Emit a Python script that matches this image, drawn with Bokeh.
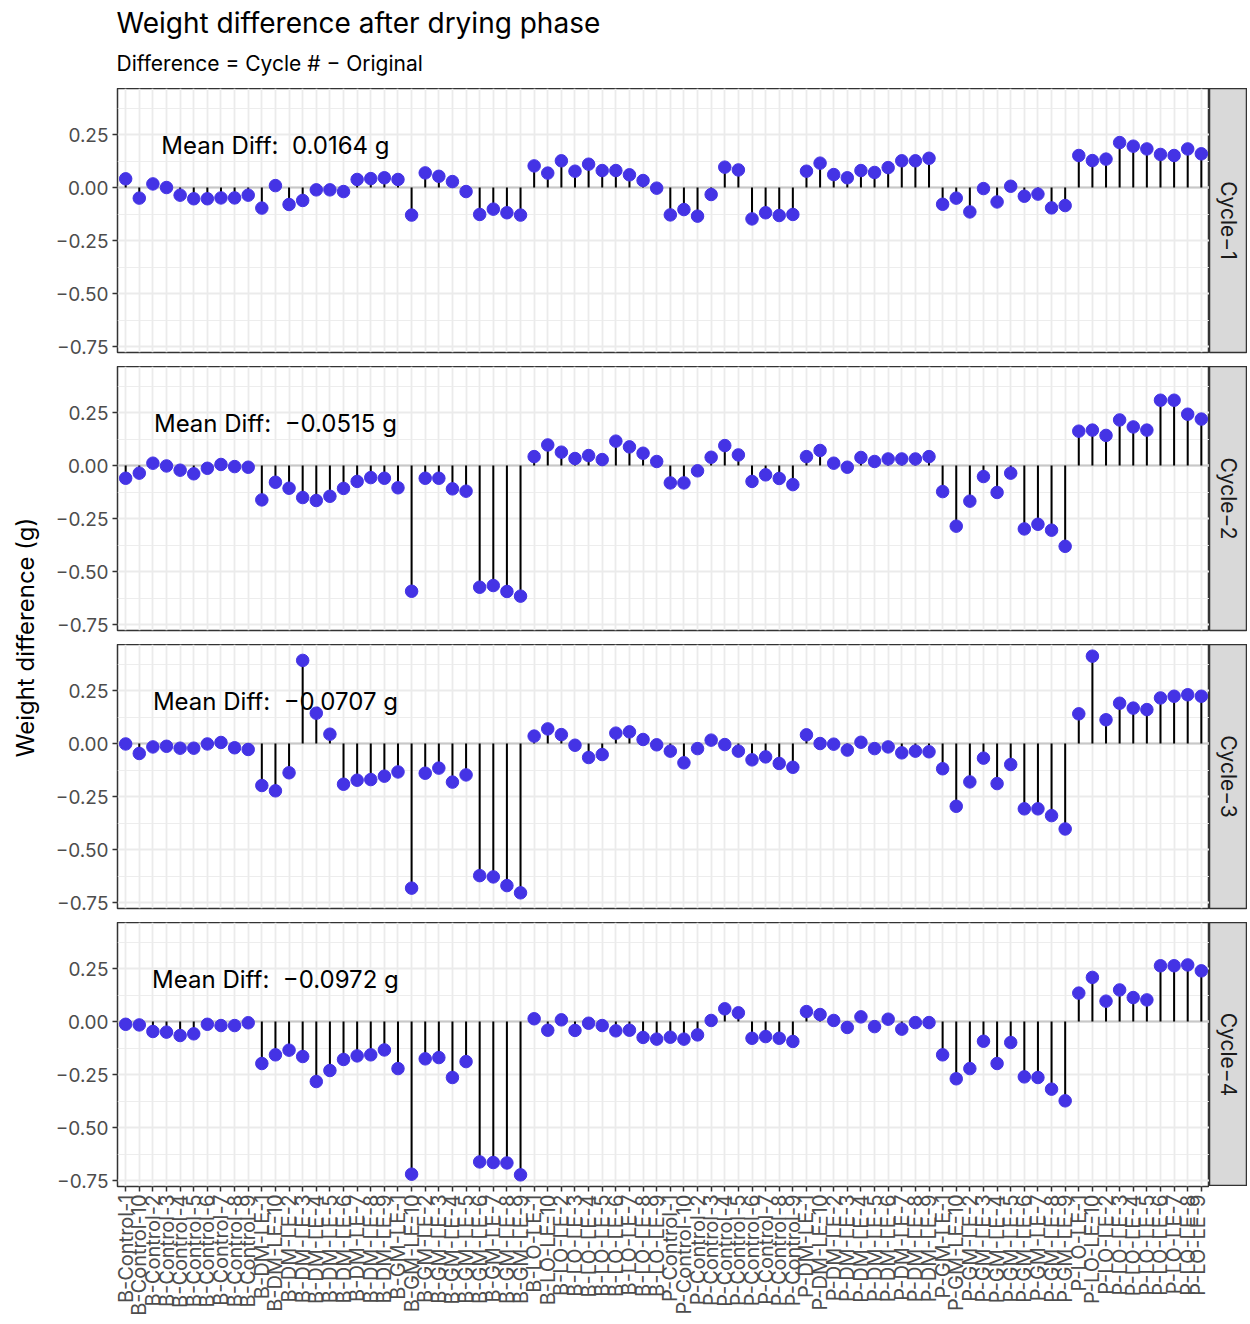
import math
from bokeh.plotting import figure
from bokeh.models import FactorRange, Range1d, FixedTicker, Span
from bokeh.layouts import column, row
from bokeh.embed import file_html
from bokeh.resources import INLINE
from bokeh.core.properties import value

# ---------------- data ----------------
groups = ["B-Control", "B-DM-LE", "B-GM-LE", "B-LO-LE",
          "P-Control", "P-DM-LE", "P-GM-LE", "P-LO-LE"]
suffixes = ["1", "10", "2", "3", "4", "5", "6", "7", "8", "9"]
categories = [f"{g}-{s}" for g in groups for s in suffixes]
category_labels = [c.replace("-", "\u2212") for c in categories]

cycle1 = [0.041, -0.050, 0.017, 0.000, -0.036, -0.053, -0.053, -0.049, -0.049, -0.036,
          -0.097, 0.009, -0.080, -0.061, -0.011, -0.011, -0.019, 0.038, 0.042, 0.046,
          0.038, -0.130, 0.069, 0.053, 0.028, -0.019, -0.127, -0.102, -0.119, -0.130,
          0.102, 0.068, 0.126, 0.077, 0.110, 0.080, 0.080, 0.060, 0.033, -0.003,
          -0.129, -0.104, -0.135, -0.033, 0.096, 0.083, -0.148, -0.119, -0.132, -0.127,
          0.077, 0.115, 0.061, 0.046, 0.080, 0.071, 0.094, 0.126, 0.126, 0.138,
          -0.079, -0.050, -0.115, -0.005, -0.068, 0.006, -0.041, -0.031, -0.096, -0.085,
          0.151, 0.127, 0.134, 0.212, 0.195, 0.182, 0.156, 0.151, 0.182, 0.159]

cycle2 = [-0.060, -0.036, 0.011, -0.002, -0.022, -0.039, -0.013, 0.005, -0.005, -0.008,
          -0.162, -0.079, -0.107, -0.151, -0.165, -0.145, -0.108, -0.075, -0.057, -0.060,
          -0.105, -0.593, -0.060, -0.060, -0.110, -0.121, -0.574, -0.566, -0.594, -0.616,
          0.042, 0.097, 0.063, 0.033, 0.047, 0.028, 0.115, 0.088, 0.058, 0.019,
          -0.082, -0.082, -0.025, 0.039, 0.094, 0.050, -0.075, -0.044, -0.061, -0.090,
          0.042, 0.071, 0.011, -0.008, 0.038, 0.019, 0.031, 0.031, 0.031, 0.042,
          -0.123, -0.286, -0.168, -0.052, -0.127, -0.036, -0.299, -0.277, -0.305, -0.381,
          0.162, 0.167, 0.142, 0.215, 0.182, 0.167, 0.308, 0.308, 0.242, 0.219]

cycle3 = [-0.002, -0.047, -0.016, -0.013, -0.022, -0.022, -0.002, 0.005, -0.020, -0.028,
          -0.198, -0.223, -0.138, 0.392, 0.143, 0.044, -0.192, -0.173, -0.170, -0.154,
          -0.134, -0.682, -0.140, -0.116, -0.182, -0.148, -0.623, -0.629, -0.670, -0.704,
          0.035, 0.069, 0.042, -0.008, -0.066, -0.052, 0.049, 0.055, 0.019, -0.006,
          -0.036, -0.091, -0.024, 0.016, -0.005, -0.036, -0.077, -0.063, -0.094, -0.112,
          0.041, 0.000, -0.003, -0.031, 0.006, -0.024, -0.016, -0.044, -0.036, -0.039,
          -0.119, -0.296, -0.181, -0.069, -0.189, -0.099, -0.308, -0.308, -0.340, -0.403,
          0.140, 0.412, 0.112, 0.190, 0.167, 0.160, 0.215, 0.223, 0.230, 0.223]

cycle4 = [-0.013, -0.016, -0.047, -0.050, -0.066, -0.058, -0.013, -0.019, -0.019, -0.006,
          -0.198, -0.157, -0.135, -0.165, -0.283, -0.231, -0.179, -0.162, -0.157, -0.134,
          -0.222, -0.720, -0.176, -0.170, -0.264, -0.189, -0.662, -0.665, -0.667, -0.723,
          0.013, -0.041, 0.008, -0.042, -0.008, -0.019, -0.044, -0.041, -0.075, -0.083,
          -0.074, -0.083, -0.063, 0.005, 0.060, 0.041, -0.079, -0.071, -0.079, -0.094,
          0.047, 0.033, 0.005, -0.028, 0.022, -0.024, 0.011, -0.036, -0.005, -0.005,
          -0.157, -0.270, -0.222, -0.093, -0.198, -0.099, -0.261, -0.264, -0.319, -0.374,
          0.134, 0.208, 0.096, 0.149, 0.113, 0.102, 0.263, 0.263, 0.267, 0.239]

series = [cycle1, cycle2, cycle3, cycle4]
strip_labels = ["Cycle\u22121", "Cycle\u22122", "Cycle\u22123", "Cycle\u22124"]
mean_labels = ["Mean Diff:\u00a0 0.0164 g", "Mean Diff:\u00a0 \u22120.0515 g",
               "Mean Diff:\u00a0 \u22120.0707 g", "Mean Diff:\u00a0 \u22120.0972 g"]
mean_label_x = "B-DM-LE-10"
mean_label_y = 0.2
y_ticks = [-0.75, -0.5, -0.25, 0.0, 0.25]
y_minor = [-0.625, -0.375, -0.125, 0.125, 0.375]
y_tick_labels = ["\u22120.75", "\u22120.50", "\u22120.25", "0.00", "0.25"]

title_text = "Weight difference after drying phase"
subtitle_text = "Difference = Cycle # \u2212 Original"
ylabel_text = "Weight difference (g)"

# ---------------- style ----------------
FONT = "Inter"
FW, FH, GAP = 1092, 264, 14
TOP = 88
LEFT = 69
YLW = 48
SW = 38
TOTAL_W = YLW + LEFT + FW + SW
POINT = "#4433E5"
GRID = "#EBEBEB"
DARK = "#333333"


def base_fig(**kw):
    f = figure(toolbar_location=None, output_backend="svg", **kw)
    f.background_fill_color = "white"
    f.border_fill_color = "white"
    return f


# title block
tfig = base_fig(x_range=Range1d(0, TOTAL_W), y_range=Range1d(0, TOP),
                frame_width=TOTAL_W, frame_height=TOP, min_border=0)
tfig.axis.visible = False
tfig.grid.visible = False
tfig.outline_line_color = None
tfig.text(x=[YLW + LEFT - 1], y=[TOP - 22], text=[title_text], text_font=value(FONT),
          text_font_size="28px", text_color="black", text_baseline="middle", text_align="left")
tfig.text(x=[YLW + LEFT - 1], y=[TOP - 63], text=[subtitle_text], text_font=value(FONT),
          text_font_size="21px", text_color="black", text_baseline="middle", text_align="left")

# y label block
col_h = 3 * (FH + GAP) + FH
yfig = base_fig(x_range=Range1d(0, YLW), y_range=Range1d(0, col_h),
                frame_width=YLW, frame_height=col_h, min_border=0)
yfig.axis.visible = False
yfig.grid.visible = False
yfig.outline_line_color = None
yfig.text(x=[25], y=[col_h / 2], text=[ylabel_text], angle=math.pi / 2,
          text_font=value(FONT), text_font_size="24px", text_color="black",
          text_align="center", text_baseline="middle")

rows = []
for i, vals in enumerate(series):
    last = i == len(series) - 1
    p = base_fig(x_range=FactorRange(factors=categories, range_padding=0.1,
                                     range_padding_units="absolute"),
                 y_range=Range1d(-0.778, 0.467),
                 frame_width=FW, frame_height=FH,
                 min_border_left=LEFT, min_border_right=0, min_border_top=0,
                 min_border_bottom=0 if last else GAP)
    p.outline_line_color = DARK
    p.outline_line_width = 1.5

    p.ygrid.grid_line_color = GRID
    p.ygrid.grid_line_width = 1.8
    p.ygrid.minor_grid_line_color = GRID
    p.ygrid.minor_grid_line_width = 0.9
    p.xgrid.grid_line_color = GRID
    p.xgrid.grid_line_width = 1.8

    p.yaxis.ticker = FixedTicker(ticks=y_ticks, minor_ticks=y_minor)
    p.yaxis.major_label_overrides = dict(zip(y_ticks, y_tick_labels))
    p.yaxis.major_label_text_font = FONT
    p.yaxis.major_label_text_font_size = "19px"
    p.yaxis.major_label_text_color = "#4D4D4D"
    p.yaxis.major_label_standoff = 4
    p.yaxis.axis_line_color = None
    p.yaxis.major_tick_line_color = DARK
    p.yaxis.major_tick_line_width = 1.5
    p.yaxis.major_tick_out = 5
    p.yaxis.major_tick_in = 0
    p.yaxis.minor_tick_line_color = None

    if last:
        p.xaxis.major_label_orientation = math.pi / 2
        p.xaxis.major_label_overrides = dict(zip(categories, category_labels))
        p.xaxis.major_label_text_font = FONT
        p.xaxis.major_label_text_font_size = "20px"
        p.xaxis.major_label_text_color = "#4D4D4D"
        p.xaxis.major_label_standoff = 3
        p.xaxis.axis_line_color = None
        p.xaxis.major_tick_line_color = DARK
        p.xaxis.major_tick_line_width = 1.5
        p.xaxis.major_tick_out = 5
        p.xaxis.major_tick_in = 0
    else:
        p.xaxis.visible = False

    zero = Span(location=0, dimension="width", line_color="#C8C8C8", line_width=2,
                level="underlay")
    p.add_layout(zero)

    p.text(x=[mean_label_x], y=[mean_label_y], text=[mean_labels[i]],
           text_font=value(FONT), text_font_size="24px", text_color="black",
           text_align="center", text_baseline="middle")
    p.segment(x0=categories, y0=[0] * len(vals), x1=categories, y1=vals,
              line_color="black", line_width=2)
    p.scatter(x=categories, y=vals, size=12.5, fill_color=POINT, line_color=POINT)

    s = base_fig(x_range=Range1d(0, 1), y_range=Range1d(0, 1),
                 frame_width=SW, frame_height=FH,
                 min_border_left=0, min_border_right=0, min_border_top=0,
                 min_border_bottom=0 if last else GAP)
    s.axis.visible = False
    s.grid.visible = False
    s.background_fill_color = "#D9D9D9"
    s.outline_line_color = DARK
    s.outline_line_width = 1.5
    s.text(x=[0.5], y=[0.5], text=[strip_labels[i]], angle=-math.pi / 2,
           text_font=value(FONT), text_font_size="21px", text_color="#1A1A1A",
           text_align="center", text_baseline="middle")
    rows.append(row(p, s))

layout = column(tfig, row(yfig, column(*rows)))

open("out.html", "w").write(file_html(layout, INLINE))
